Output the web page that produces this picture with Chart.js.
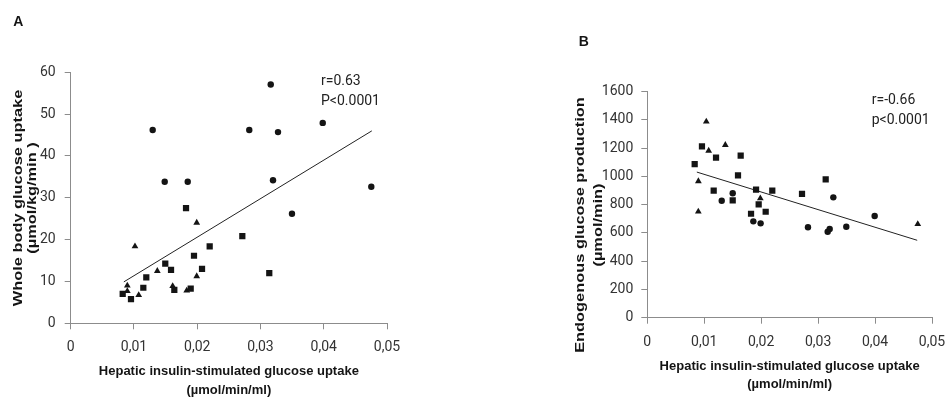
<!DOCTYPE html>
<html>
<head>
<meta charset="utf-8">
<title>Hepatic insulin-stimulated glucose uptake</title>
<script src="https://cdn.jsdelivr.net/npm/chart.js@4.4.1/dist/chart.umd.min.js"></script>
<style>
    html, body { margin: 0; padding: 0; background: #fff; overflow: hidden; }
    .panel { position: absolute; top: 0; }
    #panelA { left: 0; }
    #panelB { left: 480px; }
</style>
</head>
<body>
<div class="panel" id="panelA"><canvas id="chartA" width="420" height="400"></canvas></div>
<div class="panel" id="panelB"><canvas id="chartB" width="480" height="400"></canvas></div>

<script>
// eje x compartido
const xTickLabels = ['0', '0,01', '0,02', '0,03', '0,04', '0,05'];
const xTitle = ['Hepatic insulin-stimulated glucose uptake', '(µmol/min/ml)'];

// Panel A - whole body glucose uptake
const yTickLabelsA = ['0', '10', '20', '30', '40', '50', '60'];
const yTitleA = ['Whole body glucose uptake', '(µmol/kg/min )'];
const statsA = ['r=0.63', 'P<0.0001'];
const circlesA = [
    [0.01296, 46.2], [0.01486, 33.85], [0.0185, 33.85], [0.02823, 46.2], [0.03162, 57.1],
    [0.03277, 45.7], [0.03198, 34.2], [0.03984, 47.9], [0.04752, 32.65], [0.03498, 26.2]
];
const squaresA = [
    [0.00822, 7.05], [0.00953, 5.8], [0.01148, 8.5], [0.01195, 11.0], [0.01495, 14.25],
    [0.01586, 12.75], [0.01638, 8.0], [0.01823, 27.55], [0.01897, 8.3], [0.01949, 16.15],
    [0.02076, 13.0], [0.02197, 18.4], [0.02713, 20.85], [0.03139, 12.0]
];
const trianglesA = [
    [0.00895, 9.0], [0.00895, 7.7], [0.01075, 6.75], [0.01016, 18.4], [0.01369, 12.5],
    [0.01612, 8.9], [0.01834, 7.8], [0.01992, 11.25], [0.01992, 24.05]
];
const trendA = [[0.0084, 9.9], [0.0476, 46.0]];

// Panel B - endogenous glucose production
const yTickLabelsB = ['0', '200', '400', '600', '800', '1000', '1200', '1400', '1600'];
const yTitleB = ['Endogenous glucose production', '(µmol/min)'];
const statsB = ['r=-0.66', 'p<0.0001'];
const squaresB = [
    [0.00832, 1088], [0.0096, 1213], [0.01207, 1133], [0.0164, 1147], [0.01593, 1008],
    [0.01166, 899], [0.0191, 906], [0.02195, 899], [0.02717, 876], [0.03133, 980],
    [0.015, 831], [0.01956, 803], [0.01822, 736], [0.02079, 750]
];
const trianglesB = [
    [0.01036, 1388], [0.01078, 1182], [0.0137, 1223], [0.00897, 966], [0.00896, 751],
    [0.01985, 845], [0.0475, 663]
];
const circlesB = [
    [0.01307, 828], [0.015, 881], [0.01862, 682], [0.0199, 668], [0.02822, 640],
    [0.03168, 609], [0.03203, 628], [0.03267, 852], [0.03495, 644], [0.03993, 720]
];
const trendB = [[0.0087, 1031], [0.0474, 548]];

const axisGray = '#8c8c8c';
const tickColor = '#333';
const tickFont = { family: 'Roboto, "Liberation Sans", sans-serif', size: 14 };
const boldFamily = '"Liberation Sans", Arial, sans-serif';
const ink = '#141414';

const toXY = arr => arr.map(([x, y]) => ({ x, y }));

// textos sueltos: letra del panel, estadisticos y titulo del eje y (estirado como en el original)
const panelText = {
    id: 'panelText',
    afterDraw(chart, args, opts) {
        const ctx = chart.ctx;
        ctx.save();
        ctx.fillStyle = ink;
        ctx.textBaseline = 'middle';

        ctx.font = `bold 14px ${boldFamily}`;
        ctx.textAlign = 'center';
        ctx.fillText(opts.letter, opts.letterPos[0], opts.letterPos[1]);

        ctx.font = '14px Roboto, "Liberation Sans", sans-serif';
        ctx.fillStyle = '#222';
        ctx.textAlign = 'left';
        opts.stats.forEach((s, i) => ctx.fillText(s, opts.statsPos[0], opts.statsPos[1] + i * 19.5));

        ctx.fillStyle = ink;
        ctx.textAlign = 'center';
        ctx.font = `bold 13px ${boldFamily}`;
        ctx.translate(opts.yTitlePos[0], opts.yTitlePos[1]);
        ctx.rotate(-Math.PI / 2);
        ctx.scale(1.26, 1);
        opts.yTitle.forEach((t, i) => ctx.fillText(t, 0, i * opts.yTitleGap));
        ctx.restore();
    }
};

function makeChart(canvasId, cfg) {
    const pointSet = (data, style, radius) => ({
        data: toXY(data),
        pointStyle: style,
        pointRadius: radius,
        pointHoverRadius: radius,
        backgroundColor: ink,
        borderColor: ink,
        borderWidth: 0
    });

    return new Chart(document.getElementById(canvasId), {
        type: 'scatter',
        data: {
            datasets: [
                pointSet(cfg.circles, 'circle', 3.2),
                pointSet(cfg.squares, 'rect', 4.4),
                pointSet(cfg.triangles, 'triangle', 3.9),
                {
                    data: toXY(cfg.trend),
                    showLine: true,
                    borderColor: '#222',
                    borderWidth: 1,
                    pointRadius: 0
                }
            ]
        },
        options: {
            responsive: false,
            animation: false,
            layout: { padding: cfg.padding },
            plugins: {
                legend: { display: false },
                tooltip: { enabled: false },
                panelText: cfg.text
            },
            scales: {
                x: {
                    type: 'linear',
                    min: 0,
                    max: 0.05,
                    afterFit: s => { s.height = cfg.xHeight; },
                    border: { display: true, color: axisGray, width: 1 },
                    grid: { drawOnChartArea: false, drawTicks: true, tickLength: 6, color: axisGray },
                    ticks: {
                        stepSize: 0.01,
                        padding: 10,
                        maxRotation: 0,
                        autoSkip: false,
                        color: tickColor,
                        font: tickFont,
                        callback: (v, i) => xTickLabels[i]
                    },
                    title: {
                        display: true,
                        text: xTitle,
                        color: ink,
                        font: { family: boldFamily, size: 13, weight: 'bold', lineHeight: cfg.xTitleLine + 'px' },
                        padding: { top: 0, bottom: cfg.xTitlePad }
                    }
                },
                y: {
                    type: 'linear',
                    min: 0,
                    max: cfg.yMax,
                    afterFit: s => { s.width = cfg.yWidth; },
                    border: { display: true, color: axisGray, width: 1 },
                    grid: { drawOnChartArea: false, drawTicks: true, tickLength: 6, color: axisGray },
                    ticks: {
                        stepSize: cfg.yStep,
                        padding: cfg.yPad,
                        color: tickColor,
                        font: tickFont,
                        callback: (v, i) => cfg.yLabels[i]
                    }
                }
            }
        },
        plugins: [panelText]
    });
}

makeChart('chartA', {
    circles: circlesA, squares: squaresA, triangles: trianglesA, trend: trendA,
    yMax: 60, yStep: 10, yLabels: yTickLabelsA, yPad: 9,
    padding: { left: 0, top: 72.3, right: 33, bottom: 0 },
    xHeight: 76.7, yWidth: 70.7, xTitleLine: 19, xTitlePad: 0,
    text: {
        letter: 'A', letterPos: [18.3, 21.7],
        stats: statsA, statsPos: [321, 81.5],
        yTitle: yTitleA, yTitlePos: [18.3, 198], yTitleGap: 14
    }
});

makeChart('chartB', {
    circles: circlesB, squares: squaresB, triangles: trianglesB, trend: trendB,
    yMax: 1600, yStep: 200, yLabels: yTickLabelsB, yPad: 8,
    padding: { left: 0, top: 91.7, right: 28, bottom: 0 },
    xHeight: 82.3, yWidth: 167.3, xTitleLine: 18, xTitlePad: 7,
    text: {
        letter: 'B', letterPos: [103.7, 42.5],
        stats: statsB, statsPos: [391.7, 100.7],
        yTitle: yTitleB, yTitlePos: [100.5, 225], yTitleGap: 17.5
    }
});
</script>
</body>
</html>
